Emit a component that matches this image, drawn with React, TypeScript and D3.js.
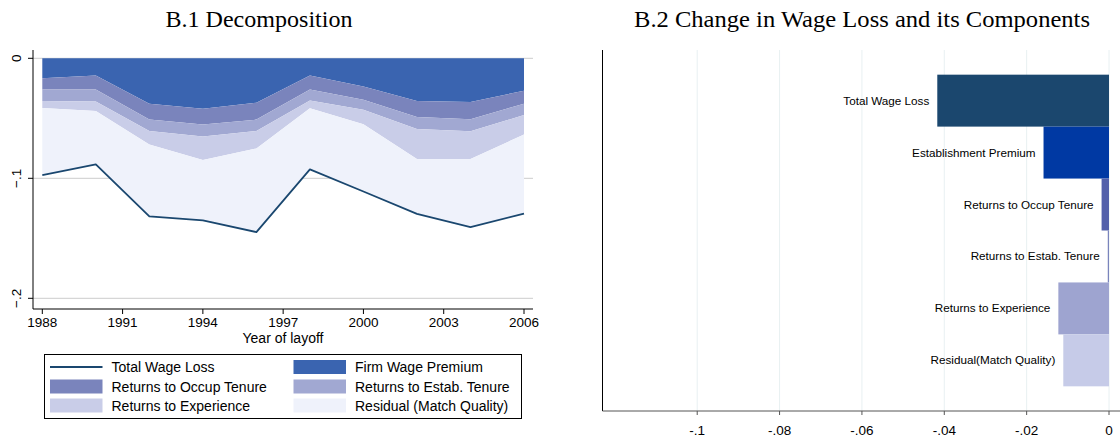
import React from "react";
import * as d3 from "d3";

// ---------- Panel B.1 data ----------
const years = [1988, 1990, 1992, 1994, 1996, 1998, 2000, 2002, 2004, 2006];
const firmPremium = [-0.0166, -0.0143, -0.0378, -0.042, -0.037, -0.0143, -0.0235, -0.0356, -0.0365, -0.027];
const occupTenure = [-0.0094, -0.0117, -0.0133, -0.0132, -0.0141, -0.0117, -0.011, -0.0133, -0.0143, -0.0108];
const estabTenure = [-0.0096, -0.0099, -0.0094, -0.01, -0.0094, -0.0091, -0.0083, -0.01, -0.01, -0.0095];
const experience = [-0.0059, -0.0081, -0.0113, -0.0196, -0.0146, -0.0066, -0.0122, -0.0251, -0.0232, -0.0162];
const residual = [-0.0558, -0.0444, -0.06, -0.0503, -0.0697, -0.0509, -0.056, -0.0456, -0.0566, -0.0659];
const totalLoss = [-0.0973, -0.0884, -0.1318, -0.1351, -0.1448, -0.0926, -0.111, -0.1296, -0.1406, -0.1294];

const xTicksLeft = [1988, 1991, 1994, 1997, 2000, 2003, 2006];
const yTicksLeft = [0, -0.1, -0.2];
const yTickLabelsLeft = ["0", "\u2212.1", "\u2212.2"];

const layerKeys = ["firm", "occup", "estab", "exper", "resid"];
const layerNames = [
  "Firm Wage Premium",
  "Returns to Occup Tenure",
  "Returns to Estab. Tenure",
  "Returns to Experience",
  "Residual (Match Quality)",
];
const layerColors = ["#3a64b0", "#7a84bc", "#a1a8d2", "#c9cde8", "#eff2fb"];
const lineColor = "#1a476f";

// ---------- Panel B.2 data ----------
const components = [
  "Total Wage Loss",
  "Establishment Premium",
  "Returns to Occup Tenure",
  "Returns to Estab. Tenure",
  "Returns to Experience",
  "Residual(Match Quality)",
];
const changeValues = [-0.0417, -0.0159, -0.0018, -0.0003, -0.0123, -0.0111];
const barColors = ["#1b476e", "#0039a3", "#5360aa", "#7a84bc", "#9ea4d0", "#c6cbe8"];
const xTicksRight = [-0.1, -0.08, -0.06, -0.04, -0.02, 0];
const xTickLabelsRight = ["-.1", "-.08", "-.06", "-.04", "-.02", "0"];

const SANS = "'Liberation Sans', Arial, sans-serif";
const SERIF = "'Liberation Serif', 'Times New Roman', serif";

export default function App() {
  // Left panel scales
  const xL = d3.scaleLinear().domain([1988, 2006]).range([42.3, 524]);
  const yL = d3.scaleLinear().domain([0, -0.2]).range([58.3, 298.3]);
  const axisLeftX = 33;
  const axisBottomY = 309;
  const plotRight = 533;

  const table = years.map((yr, i) => ({
    year: yr,
    firm: firmPremium[i],
    occup: occupTenure[i],
    estab: estabTenure[i],
    exper: experience[i],
    resid: residual[i],
  }));
  const stacked = d3.stack<any>().keys(layerKeys).offset(d3.stackOffsetDiverging)(table);
  const area = d3
    .area<any>()
    .x((d) => xL(d.data.year))
    .y0((d) => yL(d[0]))
    .y1((d) => yL(d[1]));
  const line = d3
    .line<number>()
    .x((_, i) => xL(years[i]))
    .y((d) => yL(d));

  // Right panel scales
  const xR = d3.scaleLinear().domain([-0.123, 0]).range([602.5, 1109]);
  const yR = d3.scaleBand().domain(components).range([50, 411]).paddingInner(0).paddingOuter(0.475);
  const rAxisY = 411;

  const legendItems = [
    { name: "Total Wage Loss", type: "line", color: lineColor },
    { name: layerNames[0], type: "box", color: layerColors[0] },
    { name: layerNames[1], type: "box", color: layerColors[1] },
    { name: layerNames[2], type: "box", color: layerColors[2] },
    { name: layerNames[3], type: "box", color: layerColors[3] },
    { name: layerNames[4], type: "box", color: layerColors[4] },
  ];
  const legRowY = [367, 386.5, 405.5];
  const legColX = [50, 293.5];

  return (
    <svg
      width={1120}
      height={436}
      style={{ position: "absolute", left: 0, top: 0, background: "#fff" }}
    >
      <rect x={0} y={0} width={1120} height={436} fill="#fff" />
      {/* Titles */}
      <text x={259} y={27} textAnchor="middle" fontFamily={SERIF} fontSize={23} fill="#000"
        textLength={187} lengthAdjust="spacingAndGlyphs">
        B.1 Decomposition
      </text>
      <text x={862} y={27} textAnchor="middle" fontFamily={SERIF} fontSize={23} fill="#000"
        textLength={456} lengthAdjust="spacingAndGlyphs">
        B.2 Change in Wage Loss and its Components
      </text>

      {/* ---------- Left panel ---------- */}
      {yTicksLeft.map((t) => (
        <line key={"g" + t} x1={axisLeftX} x2={plotRight} y1={yL(t)} y2={yL(t)} stroke="#d6d6d6" strokeWidth={1.2} />
      ))}
      {stacked.map((s, i) => (
        <path key={s.key} d={area(s) || ""} fill={layerColors[i]} stroke="none" />
      ))}
      <path d={line(totalLoss) || ""} fill="none" stroke={lineColor} strokeWidth={1.8} strokeLinejoin="round" />
      {/* axes */}
      <line x1={axisLeftX} x2={axisLeftX} y1={50} y2={axisBottomY} stroke="#000" strokeWidth={1} />
      <line x1={axisLeftX} x2={plotRight} y1={axisBottomY} y2={axisBottomY} stroke="#000" strokeWidth={1} />
      {yTicksLeft.map((t, i) => (
        <g key={"yt" + t}>
          <line x1={axisLeftX - 5} x2={axisLeftX} y1={yL(t)} y2={yL(t)} stroke="#000" />
          <text
            transform={`translate(${20.5},${yL(t)}) rotate(-90)`}
            textAnchor="middle"
            fontFamily={SANS}
            fontSize={13.5}
            fill="#000"
          >
            {yTickLabelsLeft[i]}
          </text>
        </g>
      ))}
      {xTicksLeft.map((t) => (
        <g key={"xt" + t}>
          <line x1={xL(t)} x2={xL(t)} y1={axisBottomY} y2={axisBottomY + 5} stroke="#000" />
          <text x={xL(t)} y={326.5} textAnchor="middle" fontFamily={SANS} fontSize={13.5} fill="#000">
            {t}
          </text>
        </g>
      ))}
      <text x={283} y={342.5} textAnchor="middle" fontFamily={SANS} fontSize={14} fill="#000">
        Year of layoff
      </text>

      {/* Legend */}
      <rect x={44.5} y={354.5} width={477} height={64} fill="#fff" stroke="#000" strokeWidth={1} />
      {legendItems.map((it, i) => {
        const col = i % 2;
        const row = Math.floor(i / 2);
        const x0 = legColX[col];
        const cy = legRowY[row];
        return (
          <g key={it.name}>
            {it.type === "line" ? (
              <line x1={x0} x2={x0 + 52.5} y1={cy} y2={cy} stroke={it.color} strokeWidth={1.8} />
            ) : (
              <rect x={x0} y={cy - 7} width={52.5} height={14} fill={it.color} />
            )}
            <text x={x0 + 61.5} y={cy + 5} fontFamily={SANS} fontSize={14} fill="#000">
              {it.name}
            </text>
          </g>
        );
      })}

      {/* ---------- Right panel ---------- */}
      {xTicksRight.map((t) => (
        <line key={"rg" + t} x1={xR(t)} x2={xR(t)} y1={50} y2={rAxisY} stroke="#e8f0f2" strokeWidth={1} />
      ))}
      {components.map((c, i) => {
        const v = changeValues[i];
        const x0 = xR(Math.min(0, v));
        const x1 = xR(Math.max(0, v));
        const yb = yR(c) as number;
        const bw = yR.bandwidth();
        return (
          <g key={c}>
            <rect x={x0} y={yb} width={Math.max(0.8, x1 - x0)} height={bw} fill={barColors[i]} />
            <text
              x={xR(Math.min(0, v)) - 8}
              y={yb + bw / 2 + 4}
              textAnchor="end"
              fontFamily={SANS}
              fontSize={11.7}
              fill="#000"
            >
              {c}
            </text>
          </g>
        );
      })}
      <line x1={602.5} x2={602.5} y1={50} y2={rAxisY} stroke="#000" strokeWidth={1} />
      <line x1={602.5} x2={1120} y1={rAxisY} y2={rAxisY} stroke="#555" strokeWidth={1} />
      {xTicksRight.map((t, i) => (
        <g key={"rt" + t}>
          <line x1={xR(t)} x2={xR(t)} y1={rAxisY} y2={rAxisY + 4} stroke="#555" />
          <text x={xR(t)} y={434.5} textAnchor="middle" fontFamily={SANS} fontSize={13.5} fill="#000">
            {xTickLabelsRight[i]}
          </text>
        </g>
      ))}
    </svg>
  );
}
